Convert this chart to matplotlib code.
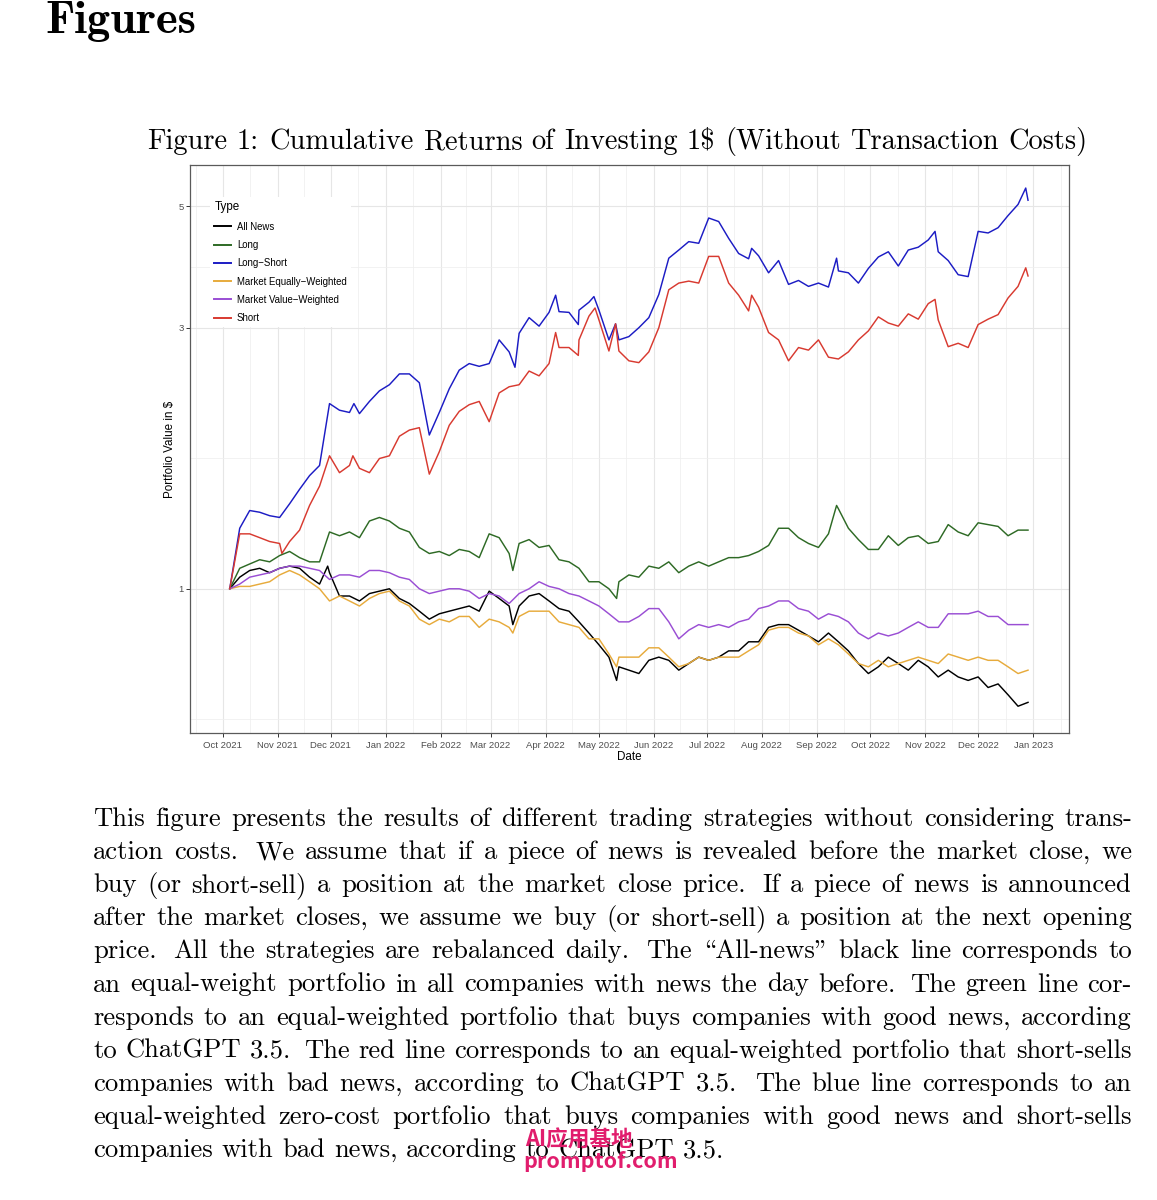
import numpy as np
import pandas as pd
import matplotlib
matplotlib.use("Agg")
import matplotlib.pyplot as plt
import matplotlib.dates as mdates
from matplotlib.ticker import FixedLocator, NullFormatter, FuncFormatter

# ---------------- data ----------------
dates = pd.date_range("2021-10-05", "2022-12-29", periods=81)

all_news = [1.00, 1.05, 1.08, 1.09, 1.07, 1.09, 1.10, 1.09, 1.05, 1.02, 1.07, 0.97, 0.97, 0.95, 0.98, 0.99, 1.00, 0.96, 0.94, 0.91, 0.88,
            0.90, 0.91, 0.92, 0.93, 0.91, 0.99, 0.96, 0.93, 0.93, 0.97, 0.98, 0.95, 0.92, 0.91, 0.87, 0.83, 0.79, 0.75, 0.72, 0.71,
            0.70, 0.74, 0.75, 0.74, 0.71, 0.73, 0.75, 0.74, 0.75, 0.77, 0.77, 0.80, 0.80, 0.85, 0.86, 0.86, 0.84, 0.82, 0.80, 0.83,
            0.80, 0.77, 0.73, 0.70, 0.72, 0.75, 0.73, 0.71, 0.74, 0.72, 0.69, 0.71, 0.69, 0.68, 0.69, 0.66, 0.67, 0.64, 0.61,
            0.62]
long_ = [1.00, 1.09, 1.11, 1.13, 1.12, 1.15, 1.17, 1.14, 1.12, 1.12, 1.27, 1.25, 1.27, 1.24, 1.33, 1.35, 1.33, 1.29, 1.27, 1.19, 1.16,
         1.17, 1.15, 1.18, 1.17, 1.14, 1.26, 1.24, 1.16, 1.21, 1.23, 1.19, 1.20, 1.13, 1.12, 1.09, 1.03, 1.03, 1.00, 1.03, 1.06,
         1.05, 1.10, 1.09, 1.12, 1.07, 1.10, 1.12, 1.10, 1.12, 1.14, 1.14, 1.15, 1.17, 1.20, 1.29, 1.29, 1.24, 1.21, 1.19, 1.26,
         1.40, 1.29, 1.23, 1.18, 1.18, 1.25, 1.20, 1.24, 1.25, 1.21, 1.22, 1.31, 1.27, 1.25, 1.32, 1.31, 1.30, 1.25, 1.28,
         1.28]
long_short = [1.00, 1.29, 1.39, 1.38, 1.36, 1.35, 1.43, 1.52, 1.61, 1.68, 2.18, 2.12, 2.10, 2.09, 2.20, 2.30, 2.36, 2.47, 2.47, 2.38, 1.91,
              2.10, 2.32, 2.51, 2.58, 2.55, 2.58, 2.85, 2.71, 2.93, 3.13, 3.02, 3.20, 3.21, 3.20, 3.23, 3.34, 3.23, 2.85, 2.85, 2.89,
              3.00, 3.13, 3.45, 4.02, 4.16, 4.31, 4.28, 4.76, 4.69, 4.37, 4.10, 4.01, 4.06, 3.78, 3.98, 3.60, 3.66, 3.57, 3.62, 3.56,
              3.81, 3.78, 3.62, 3.85, 4.04, 4.13, 3.89, 4.16, 4.21, 4.34, 4.13, 3.98, 3.75, 3.72, 4.50, 4.47, 4.57, 4.81, 5.04,
              5.13]
market_ew = [1.00, 1.01, 1.01, 1.02, 1.03, 1.06, 1.08, 1.06, 1.03, 1.00, 0.95, 0.97, 0.95, 0.93, 0.96, 0.98, 0.99, 0.95, 0.93, 0.88, 0.86,
             0.88, 0.87, 0.89, 0.89, 0.85, 0.88, 0.87, 0.85, 0.89, 0.91, 0.91, 0.91, 0.87, 0.86, 0.85, 0.81, 0.81, 0.76, 0.75, 0.75,
             0.75, 0.78, 0.78, 0.75, 0.72, 0.73, 0.75, 0.74, 0.75, 0.75, 0.75, 0.77, 0.79, 0.84, 0.85, 0.85, 0.83, 0.82, 0.79, 0.81,
             0.79, 0.76, 0.73, 0.72, 0.74, 0.72, 0.73, 0.74, 0.75, 0.74, 0.73, 0.76, 0.75, 0.74, 0.75, 0.74, 0.74, 0.72, 0.70,
             0.71]
market_vw = [1.00, 1.02, 1.05, 1.06, 1.07, 1.09, 1.10, 1.10, 1.09, 1.08, 1.04, 1.06, 1.06, 1.05, 1.08, 1.08, 1.07, 1.05, 1.04, 1.00, 0.98,
             0.99, 1.00, 1.00, 0.99, 0.96, 0.98, 0.97, 0.94, 0.98, 1.00, 1.03, 1.01, 1.00, 0.98, 0.97, 0.95, 0.93, 0.90, 0.87, 0.87,
             0.89, 0.92, 0.92, 0.87, 0.81, 0.84, 0.86, 0.85, 0.86, 0.85, 0.87, 0.88, 0.92, 0.93, 0.95, 0.95, 0.92, 0.91, 0.88, 0.90,
             0.89, 0.87, 0.83, 0.81, 0.83, 0.82, 0.83, 0.85, 0.87, 0.85, 0.85, 0.90, 0.90, 0.90, 0.91, 0.89, 0.89, 0.86, 0.86,
             0.86]
short = [1.00, 1.26, 1.26, 1.24, 1.22, 1.21, 1.22, 1.28, 1.42, 1.54, 1.75, 1.63, 1.68, 1.66, 1.63, 1.73, 1.75, 1.90, 1.95, 1.97, 1.62,
         1.78, 1.99, 2.11, 2.17, 2.20, 2.02, 2.28, 2.34, 2.36, 2.50, 2.45, 2.58, 2.76, 2.76, 2.85, 3.15, 3.10, 2.72, 2.72, 2.61,
         2.59, 2.71, 3.00, 3.52, 3.62, 3.65, 3.62, 4.05, 4.05, 3.62, 3.44, 3.22, 3.27, 2.94, 2.85, 2.61, 2.76, 2.73, 2.85, 2.65,
         2.63, 2.71, 2.85, 2.96, 3.14, 3.06, 3.02, 3.18, 3.11, 3.32, 3.10, 2.77, 2.81, 2.76, 3.04, 3.11, 3.17, 3.40, 3.57,
         3.73]

# single-day spikes and dips read between the regular samples
all_news_spike_dates = ["2021-11-29 05:00", "2022-03-13 14:00", "2022-05-11 02:00"]
all_news_spikes = [1.10, 0.86, 0.68]
long_spike_dates = ["2022-03-13 14:00", "2022-05-11 02:00", "2022-09-12 02:00"]
long_spikes = [1.08, 0.96, 1.42]
long_short_spike_dates = ["2021-12-14 00:00", "2022-03-14 19:00", "2022-04-06 17:00", "2022-04-19 12:00",
                          "2022-04-28 07:00", "2022-05-10 12:00", "2022-07-26 05:00", "2022-09-12 02:00",
                          "2022-11-06 14:00", "2022-12-27 17:00"]
long_short_spikes = [2.18, 2.54, 3.44, 3.04, 3.42, 3.05, 4.19, 4.02, 4.50, 5.40]
market_ew_spike_dates = ["2022-03-13 14:00", "2022-05-11 02:00"]
market_ew_spikes = [0.83, 0.72]
market_vw_spike_dates = []
market_vw_spikes = []
short_spike_dates = ["2021-11-03 10:00", "2021-12-13 10:00", "2022-04-06 17:00", "2022-04-19 12:00",
                     "2022-04-28 22:00", "2022-05-10 12:00", "2022-07-26 05:00", "2022-11-06 14:00",
                     "2022-12-27 17:00"]
short_spikes = [1.16, 1.75, 2.94, 2.67, 3.26, 3.05, 3.44, 3.38, 3.86]

series_names = ["All News", "Long", "Long\u2212Short", "Market Equally\u2212Weighted",
                "Market Value\u2212Weighted", "Short"]
series_values = [all_news, long_, long_short, market_ew, market_vw, short]
series_spike_dates = [all_news_spike_dates, long_spike_dates, long_short_spike_dates,
                      market_ew_spike_dates, market_vw_spike_dates, short_spike_dates]
series_spikes = [all_news_spikes, long_spikes, long_short_spikes, market_ew_spikes,
                 market_vw_spikes, short_spikes]
series_colors = ["#000000", "#2e6a25", "#1c1cc4", "#e7ab3c", "#9a4ed4", "#d83a30"]

y_breaks = [1, 3, 5]

heading = "Figures"
caption = "Figure 1: Cumulative Returns of Investing 1$ (Without Transaction Costs)"
paragraph_lines = [
    "This figure presents the results of different trading strategies without considering trans-",
    "action costs. We assume that if a piece of news is revealed before the market close, we",
    "buy (or short-sell) a position at the market close price. If a piece of news is announced",
    "after the market closes, we assume we buy (or short-sell) a position at the next opening",
    "price. All the strategies are rebalanced daily. The \\All-news\" black line corresponds to",
    "an equal-weight portfolio in all companies with news the day before. The green line cor-",
    "responds to an equal-weighted portfolio that buys companies with good news, according",
    "to ChatGPT 3.5. The red line corresponds to an equal-weighted portfolio that short-sells",
    "companies with bad news, according to ChatGPT 3.5. The blue line corresponds to an",
    "equal-weighted zero-cost portfolio that buys companies with good news and short-sells",
    "companies with bad news, according to ChatGPT 3.5.",
]
watermark = ["AI应用基地", "promptof.com"]

# ---------------- figure ----------------
W, H = 1157, 1200
fig = plt.figure(figsize=(W / 100, H / 100), dpi=100)
fig.patch.set_facecolor("white")
renderer = fig.canvas.get_renderer()

SANS = "Liberation Sans"
SERIF = "cmr10"


def text_width(s, size, family, weight="normal"):
    t = fig.text(0, 0, s, fontsize=size, family=family, weight=weight)
    w = t.get_window_extent(renderer).width
    t.remove()
    return w


def line_layout(words, size, family, target=None, weight="normal"):
    widths = [text_width(w, size, family, weight) for w in words]
    em = size * 100 / 72
    nat, st = [], []
    for w in words[:-1]:
        if w.endswith(".") or w.endswith("?"):
            nat.append(0.444 * em); st.append(0.5 * em)
        elif w.endswith(":"):
            nat.append(0.389 * em); st.append(0.33 * em)
        else:
            nat.append(0.333 * em); st.append(0.1667 * em)
    if target is None or len(words) == 1:
        gaps = nat
    else:
        extra = target - sum(widths) - sum(nat)
        if extra >= 0:
            r = extra / sum(st)
            gaps = [n + r * s for n, s in zip(nat, st)]
        else:
            r = extra / (len(nat) * 0.111 * em)
            gaps = [n + r * 0.111 * em for n in nat]
    return widths, gaps


def draw_words(words, widths, gaps, x0, ybase, size, family, weight="normal", color="black"):
    x = x0
    for i, w in enumerate(words):
        fig.text(x / W, 1 - ybase / H, w, fontsize=size, family=family, weight=weight,
                 va="baseline", ha="left", color=color)
        x += widths[i] + (gaps[i] if i < len(gaps) else 0)


def natural_width(words, size, family, weight="normal"):
    widths, gaps = line_layout(words, size, family, None, weight)
    return sum(widths) + sum(gaps)


# heading
hs = 30 * 151 / text_width(heading, 30, "cmb10")
fig.text(45 / W, 1 - 33 / H, heading, fontsize=hs, family="cmb10", va="baseline", ha="left")

# caption
cw = caption.split(" ")
cs = 20 * 941 / natural_width(cw, 20, SERIF)
widths, gaps = line_layout(cw, cs, SERIF)
draw_words(cw, widths, gaps, 147, 149, cs, SERIF)

# paragraph
last = paragraph_lines[-1].split(" ")
bs = 20 * 632 / natural_width(last, 20, SERIF)
x_left, x_right = 93, 1132
for k, line in enumerate(paragraph_lines):
    words = line.split(" ")
    justify = k < len(paragraph_lines) - 1
    widths, gaps = line_layout(words, bs, SERIF, (x_right - x_left) if justify else None)
    draw_words(words, widths, gaps, x_left, 826 + 33.1 * k, bs, SERIF)

# ---------------- chart ----------------
pl, pr, pt, pb = 190, 1069, 165, 733
ax = fig.add_axes([pl / W, 1 - pb / H, (pr - pl) / W, (pb - pt) / H])
for name, vals, sd, sv, col in zip(series_names, series_values, series_spike_dates,
                                   series_spikes, series_colors):
    s = pd.Series(vals, index=dates)
    if len(sd):
        extra = pd.Series(sv, index=pd.to_datetime(sd, format="%Y-%m-%d %H:%M"))
        s = pd.concat([s, extra]).sort_index()
    ax.plot(s.index, s.values, color=col, lw=1.05, label=name, solid_joinstyle="round")

ax.set_yscale("log")
ax.set_ylim(0.545, 5.95)
x_lo = mdates.date2num(pd.Timestamp("2021-10-01")) - 18.4
x_hi = mdates.date2num(pd.Timestamp("2023-01-01")) + 20.1
ax.set_xlim(x_lo, x_hi)

ax.yaxis.set_major_locator(FixedLocator(y_breaks))
ax.yaxis.set_major_formatter(FuncFormatter(lambda v, p: f"{v:g}"))
lb = np.log(y_breaks)
y_minor = [np.exp(lb[0] - (lb[1] - lb[0]) / 2)] + [np.exp((a + b) / 2) for a, b in zip(lb[:-1], lb[1:])]
ax.yaxis.set_minor_locator(FixedLocator(y_minor))
ax.yaxis.set_minor_formatter(NullFormatter())

months = pd.date_range("2021-09-01", "2023-02-01", freq="MS")
mnum = mdates.date2num(months)
ax.xaxis.set_major_locator(FixedLocator(mnum[1:-1]))
ax.xaxis.set_major_formatter(mdates.DateFormatter("%b %Y"))
ax.xaxis.set_minor_locator(FixedLocator((mnum[:-1] + mnum[1:]) / 2))
ax.xaxis.set_minor_formatter(NullFormatter())

ax.set_axisbelow(True)
ax.grid(which="major", color="#e6e6e6", lw=0.8)
ax.grid(which="minor", color="#efefef", lw=0.55)
for sp in ax.spines.values():
    sp.set_color("#5a5a5a")
    sp.set_linewidth(0.9)

ax.tick_params(which="major", length=2.6, width=0.7, color="#333333", labelcolor="#4d4d4d",
               labelsize=6.8, pad=1.8)
ax.tick_params(axis="x", which="major", pad=3.2)
ax.tick_params(which="minor", length=0)
for lab in ax.get_xticklabels() + ax.get_yticklabels():
    lab.set_family(SANS)

ax.set_xlabel("Date", fontsize=8.4, family=SANS, color="black")
ax.xaxis.set_label_coords(0.5, (pb - 751) / (pb - pt))
ax.set_ylabel("Portfolio Value in $", fontsize=8.4, family=SANS, color="black")
ax.yaxis.set_label_coords((176 - pl) / (pr - pl), 0.5)

leg = ax.legend(title="Type", loc="upper left", bbox_to_anchor=(210 / W, 1 - 197 / H),
                bbox_transform=fig.transFigure, frameon=True, fancybox=False, framealpha=1,
                edgecolor="none", facecolor="white",
                prop={"family": SANS, "size": 6.95},
                title_fontproperties={"family": SANS, "size": 8.4},
                handlelength=1.7, handletextpad=0.65, labelspacing=0.86, borderpad=0.45,
                borderaxespad=0, alignment="left")
for l in leg.get_lines():
    l.set_linewidth(1.4)

# ---------------- watermark ----------------
WM = ["Noto Sans CJK SC", "DejaVu Sans"]
ws0 = 15 * 108 / text_width(watermark[0], 15, WM, "bold")
fig.text(525 / W, 1 - 1147 / H, watermark[0], fontsize=ws0, family=WM, weight="bold",
         color="#e11d6d", va="baseline", ha="left")
ws1 = 15 * 154 / text_width(watermark[1], 15, WM, "bold")
fig.text(523 / W, 1 - 1168 / H, watermark[1], fontsize=ws1, family=WM, weight="bold",
         color="#e11d6d", va="baseline", ha="left")

fig.savefig("out.png", dpi=100, facecolor="white")
